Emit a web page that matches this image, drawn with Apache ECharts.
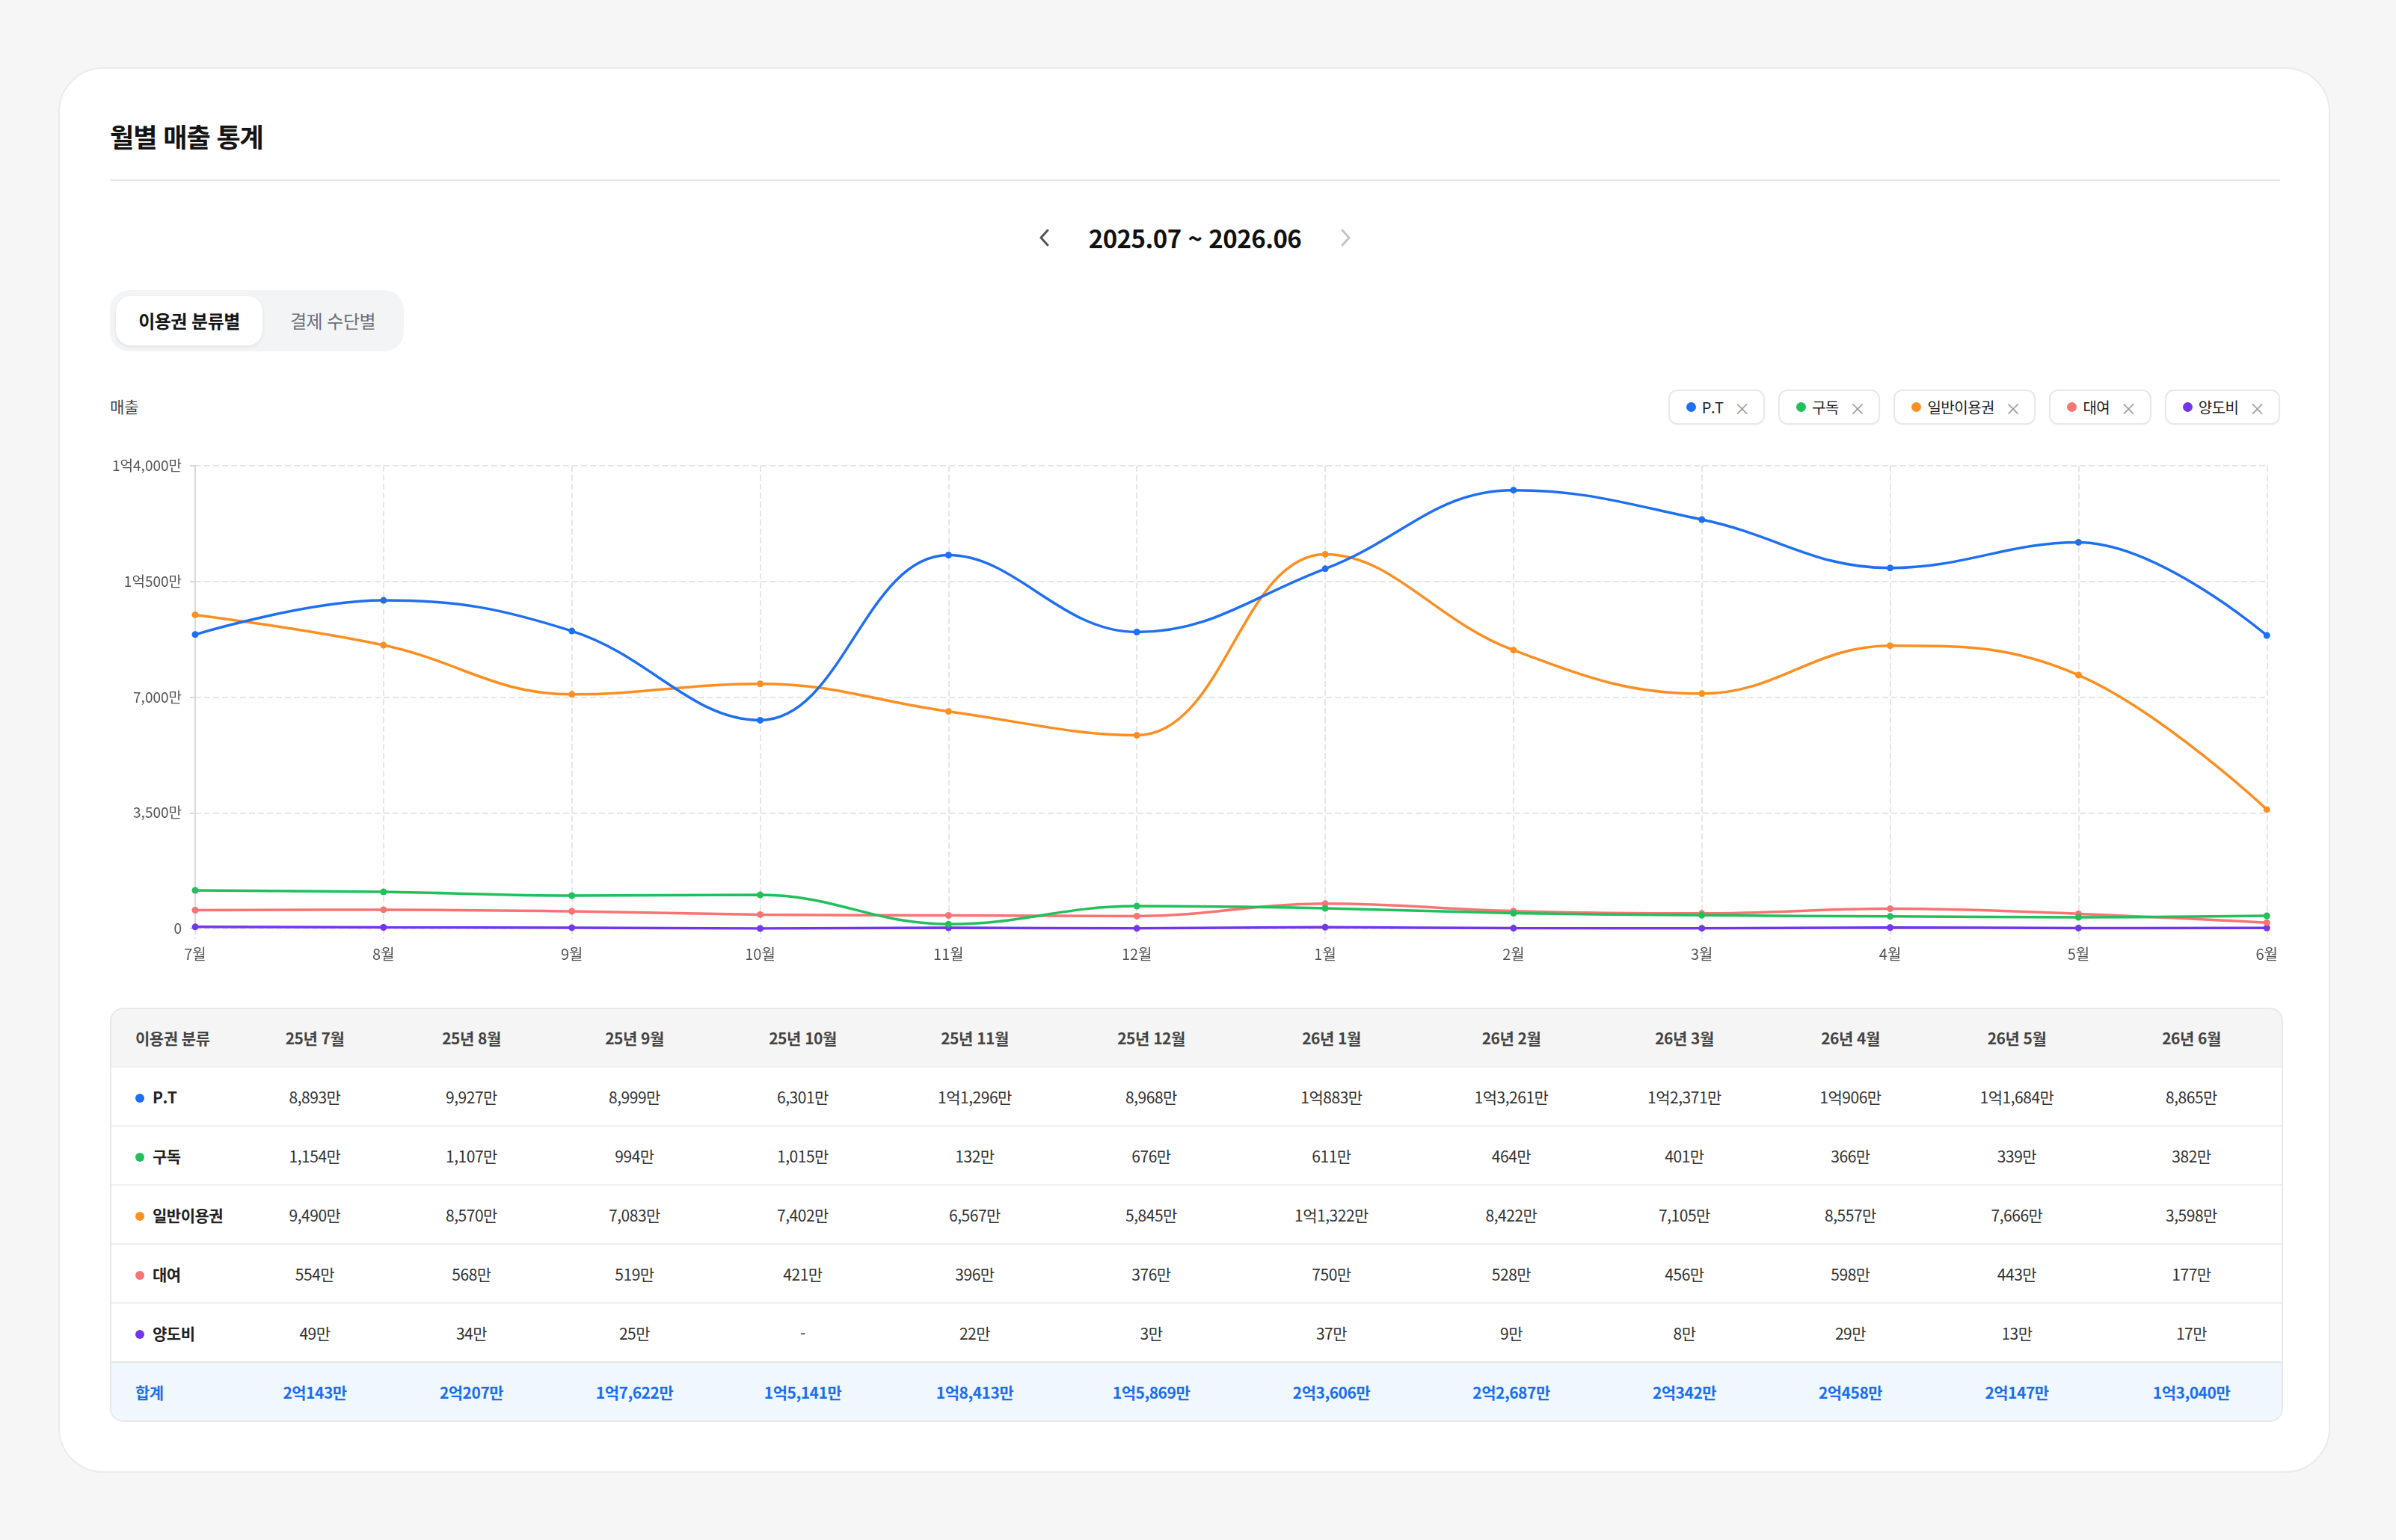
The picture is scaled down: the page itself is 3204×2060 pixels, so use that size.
<!DOCTYPE html>
<html lang="ko">
<head>
<meta charset="utf-8">
<title>월별 매출 통계</title>
<script src="https://cdn.jsdelivr.net/npm/echarts@6/dist/echarts.min.js"></script>
<style>
  html, body { margin: 0; padding: 0; }
  body {
    width: 3204px; height: 2060px; overflow: hidden;
    background: #f6f6f6;
    font-family: "Noto Sans CJK KR", "Noto Sans", sans-serif;
    color: #222;
    position: relative;
  }
  .card {
    position: absolute; left: 78px; top: 90px; width: 3034px; height: 1876px;
    background: #fff; border: 2px solid #ebebeb; border-radius: 60px;
  }
  .title {
    position: absolute; left: 147px; top: 156px;
    font-size: 35px; font-weight: 700; color: #141414; letter-spacing: -1px;
  }
  .divider {
    position: absolute; left: 147px; top: 240px; width: 2902px; height: 2px; background: #e6e6e6;
  }
  .nav {
    position: absolute; left: 1377px; top: 290px; width: 442px; height: 56px;
    display: flex; align-items: center; justify-content: space-between;
  }
  .nav .range { font-size: 33px; font-weight: 600; color: #111; letter-spacing: -0.5px; }
  .tabs {
    position: absolute; left: 147px; top: 388px; width: 393px; height: 82px;
    background: #f3f4f6; border-radius: 26px;
  }
  .tab {
    position: absolute; top: 8px; height: 66px; line-height: 66px;
    font-size: 24px; text-align: center; letter-spacing: -0.5px;
  }
  .tab.on {
    left: 8px; width: 196px; background: #fff; border-radius: 20px;
    font-weight: 700; color: #151515; box-shadow: 0 2px 5px rgba(0,0,0,0.08);
  }
  .tab.off { left: 212px; width: 172px; color: #6b6f76; }
  .ylabel {
    position: absolute; left: 147px; top: 528px; font-size: 21px; color: #444;
  }
  .legend {
    position: absolute; right: 155px; top: 521px; height: 47px;
    display: flex; gap: 18px;
  }
  .chip {
    height: 43px; border: 2px solid #e8e8e8; border-radius: 12px;
    display: flex; align-items: center; padding: 0 18px 0 22px;
    font-size: 20px; color: #222; letter-spacing: -0.5px;
    box-shadow: 0 1px 2px rgba(0,0,0,0.04);
  }
  .chip .dot { width: 13px; height: 13px; border-radius: 50%; margin-right: 8px; }
  .chip .x { color: #9a9a9a; margin-left: 14px; font-size: 22px; }
  #chart { position: absolute; left: 147px; top: 590px; width: 2902px; height: 720px; }
  .tbl {
    position: absolute; left: 147px; top: 1348px; width: 2902px;
    border: 2px solid #e8e8e8; border-radius: 18px; overflow: hidden;
  }
  table { border-collapse: collapse; width: 100%; table-layout: fixed; }
  td, th {
    height: 77px; padding: 0; text-align: center; font-size: 21px; color: #333;
    border-top: 2px solid #f0f0f0; letter-spacing: -0.5px; white-space: nowrap;
  }
  th { background: #f5f5f5; font-weight: 600; color: #444; border-top: none; height: 76px; }
  td.name, th.name { text-align: left; padding-left: 32px; }
  td.name { font-weight: 700; color: #222; }
  td.name .dot { display: inline-block; width: 12px; height: 12px; border-radius: 50%; margin-right: 11px; vertical-align: 1px; }
  tr.total td { background: #f0f7ff; color: #1a6ff0; font-weight: 700; border-top: 2px solid #e4e6ea; }
</style>
</head>
<body>
<div class="card"></div>
<div class="title">월별 매출 통계</div>
<div class="divider"></div>
<div class="nav">
  <svg width="40" height="40" viewBox="0 0 40 40"><polyline points="24,10 15,20 24,30" fill="none" stroke="#555" stroke-width="3" stroke-linecap="round" stroke-linejoin="round"/></svg>
  <span class="range">2025.07 ~ 2026.06</span>
  <svg width="40" height="40" viewBox="0 0 40 40"><polyline points="16,10 25,20 16,30" fill="none" stroke="#c4c4c4" stroke-width="3" stroke-linecap="round" stroke-linejoin="round"/></svg>
</div>
<div class="tabs">
  <div class="tab on">이용권 분류별</div>
  <div class="tab off">결제 수단별</div>
</div>
<div class="ylabel">매출</div>
<div class="legend" id="legend"></div>
<div id="chart"></div>
<div class="tbl"><table id="table"></table></div>

<script>
// 단위: 만원
const months = ['7월', '8월', '9월', '10월', '11월', '12월', '1월', '2월', '3월', '4월', '5월', '6월'];
const tableMonths = ['25년 7월', '25년 8월', '25년 9월', '25년 10월', '25년 11월', '25년 12월',
  '26년 1월', '26년 2월', '26년 3월', '26년 4월', '26년 5월', '26년 6월'];
const seriesNames = ['P.T', '구독', '일반이용권', '대여', '양도비'];
const seriesColors = ['#1f6ff2', '#22bf5c', '#fb8f22', '#f87474', '#7437e8'];

const ptValues = [8893, 9927, 8999, 6301, 11296, 8968, 10883, 13261, 12371, 10906, 11684, 8865];
const subscribeValues = [1154, 1107, 994, 1015, 132, 676, 611, 464, 401, 366, 339, 382];
const generalValues = [9490, 8570, 7083, 7402, 6567, 5845, 11322, 8422, 7105, 8557, 7666, 3598];
const rentalValues = [554, 568, 519, 421, 396, 376, 750, 528, 456, 598, 443, 177];
const transferValues = [49, 34, 25, 0, 22, 3, 37, 9, 8, 29, 13, 17];
const totalValues = [20143, 20207, 17622, 15141, 18413, 15869, 23606, 22687, 20342, 20458, 20147, 13040];

const yMin = 0, yMax = 14000, yInterval = 3500;

const allValues = [ptValues, subscribeValues, generalValues, rentalValues, transferValues];

// 만 단위 -> "1억4,000만"
function fmtMan(v, zeroText) {
  if (!v) return zeroText;
  const eok = Math.floor(v / 10000);
  const man = v % 10000;
  let s = '';
  if (eok > 0) s += eok + '억';
  if (man > 0) s += man.toLocaleString('en-US') + '만';
  return s;
}

// 범례 칩
const legendEl = document.getElementById('legend');
seriesNames.forEach((n, i) => {
  const c = document.createElement('div');
  c.className = 'chip';
  c.innerHTML = '<span class="dot" style="background:' + seriesColors[i] + '"></span>' + n + '<span class="x">×</span>';
  legendEl.appendChild(c);
});

// 표
const colWidths = [169, 206, 213, 223, 227, 233, 239, 243, 238, 225, 219, 226, 241];
let html = '<colgroup>' + colWidths.map(w => '<col style="width:' + w + 'px">').join('') + '</colgroup>';
html += '<tr><th class="name">이용권 분류</th>' + tableMonths.map(m => '<th>' + m + '</th>').join('') + '</tr>';
seriesNames.forEach((n, i) => {
  html += '<tr><td class="name"><span class="dot" style="background:' + seriesColors[i] + '"></span>' + n + '</td>';
  html += allValues[i].map(v => '<td>' + fmtMan(v, '-') + '</td>').join('') + '</tr>';
});
html += '<tr class="total"><td class="name" style="color:#1a6ff0">합계</td>' +
  totalValues.map(v => '<td>' + fmtMan(v, '-') + '</td>').join('') + '</tr>';
document.getElementById('table').innerHTML = html;

// 차트
let myChart = echarts.init(document.getElementById('chart'));

let seriesObj = seriesNames.map((n, i) => ({
  name: n,
  type: 'line',
  data: allValues[i],
  smooth: 0.4,
  symbol: 'circle',
  symbolSize: 9,
  lineStyle: { width: 3.5, color: seriesColors[i] },
  itemStyle: { color: seriesColors[i] },
  z: 10 - i
}));

let option = {
  animation: false,
  grid: { left: 114, right: 15, top: 33, bottom: 68 },
  xAxis: {
    type: 'category',
    data: months,
    boundaryGap: false,
    axisLine: { show: false },
    axisTick: { show: true, length: 14, lineStyle: { color: '#e3e3e3', type: 'dashed', width: 2 } },
    axisLabel: { color: '#555', fontSize: 20, margin: 24, fontFamily: 'Noto Sans CJK KR' },
    splitLine: { show: true, lineStyle: { color: '#e6e6e6', type: 'dashed', width: 2 } }
  },
  yAxis: {
    type: 'value',
    min: yMin,
    max: yMax,
    interval: yInterval,
    axisLine: { show: true, lineStyle: { color: '#d6d8dc', width: 2 } },
    axisTick: { show: true, length: 7, lineStyle: { color: '#d6d8dc', width: 2 } },
    axisLabel: {
      color: '#555', fontSize: 19, margin: 18, fontFamily: 'Noto Sans CJK KR',
      formatter: v => fmtMan(v, '0')
    },
    splitLine: { show: true, lineStyle: { color: '#e6e6e6', type: 'dashed', width: 2 } }
  },
  tooltip: { show: false },
  legend: { show: false },
  series: seriesObj
};

myChart.setOption(option);
</script>
</body>
</html>
